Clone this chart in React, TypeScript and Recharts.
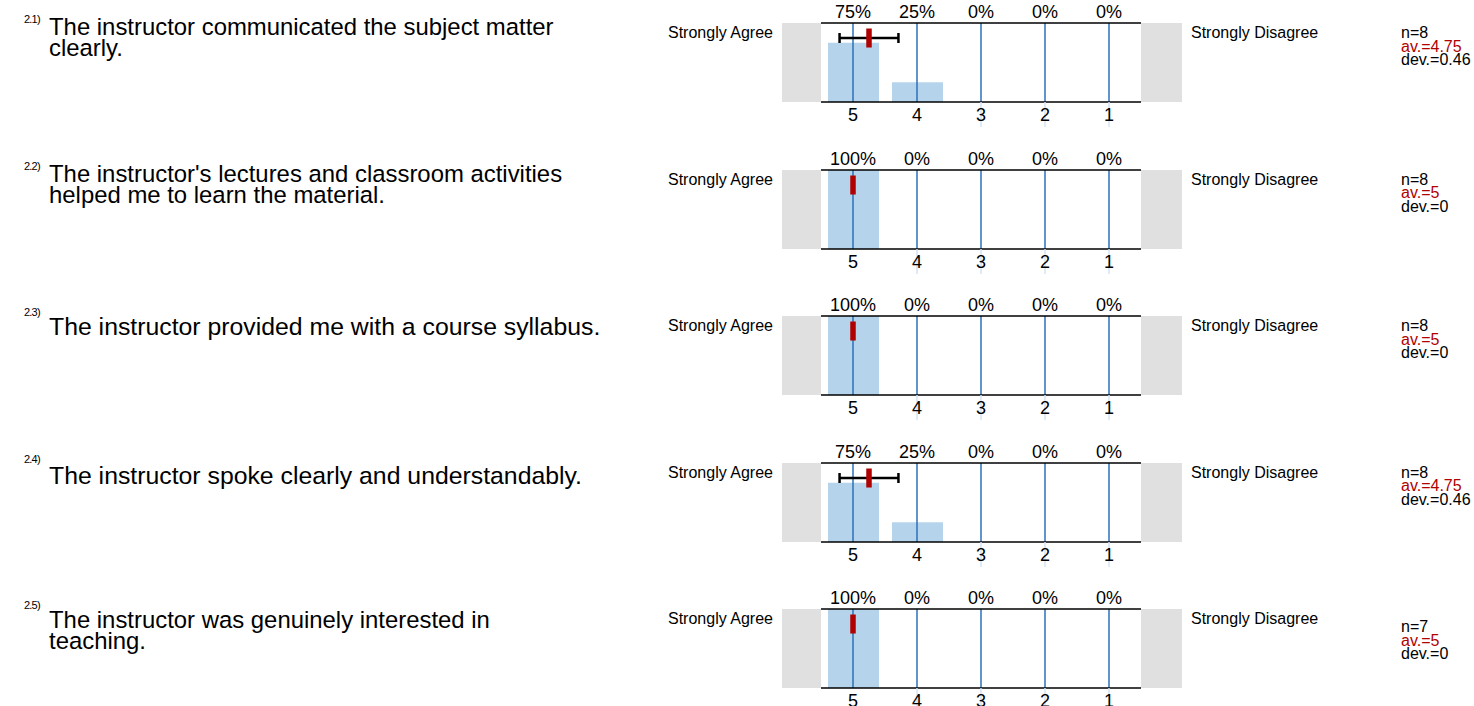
import React from 'react';
import { ComposedChart, Bar, XAxis, YAxis, ReferenceLine, Scatter, ErrorBar } from 'recharts';

// answer scale, left = best
const categories = ['5', '4', '3', '2', '1'];
const itemNumbers = ['2.1)', '2.2)', '2.3)', '2.4)', '2.5)'];
const questions = [
  ['The instructor communicated the subject matter', 'clearly.'],
  ["The instructor's lectures and classroom activities", 'helped me to learn the material.'],
  ['The instructor provided me with a course syllabus.'],
  ['The instructor spoke clearly and understandably.'],
  ['The instructor was genuinely interested in', 'teaching.'],
];
// share of answers per category, in %
const shares = [
  [75, 25, 0, 0, 0],
  [100, 0, 0, 0, 0],
  [100, 0, 0, 0, 0],
  [75, 25, 0, 0, 0],
  [100, 0, 0, 0, 0],
];
const counts = [8, 8, 8, 8, 7];
const averages = [4.75, 5, 5, 4.75, 5];
const deviations = [0.46, 0, 0, 0.46, 0];
const leftPole = 'Strongly Agree';
const rightPole = 'Strongly Disagree';

const FONT = '"Liberation Sans", Arial, Helvetica, sans-serif';
const ROW_TOP = 23;
const ROW_STEP = 146.5;
const PLOT_H = 79;
const CHART_LEFT = 782;
const TOP_AXIS_H = 23;
const BOTTOM_AXIS_H = 33;
const MARGIN = { top: 0, right: 41, bottom: 0, left: 39 };
const CHART_W = 400;
const CHART_H = TOP_AXIS_H + PLOT_H + BOTTOM_AXIS_H;
const MARK_Y = 81;
const textShift = [0, 0, 7, 9, 7];
const statShift = [0, 0, 0, 0, 8];

const BAR_FILL = '#b5d4ec';
const LINE_BLUE = '#2a72b8';
const MEAN_RED = '#b00000';

function MeanMark(props: any) {
  const { cx, cy } = props;
  return <rect x={cx - 2.75} y={cy - 9.5} width={5.5} height={19} fill={MEAN_RED} />;
}

function makeBottomTick(row: number) {
  return function BottomTick(props: any) {
    const { x, y, payload, index } = props;
    const empty = shares[row][index] === 0;
    return (
      <g>
        {empty && <line x1={x} x2={x} y1={y} y2={y + 25} stroke="#d3e5f4" strokeWidth={1.5} />}
        <text x={x} y={y + 13} textAnchor="middle" dominantBaseline="central" fontSize={18} fontFamily={FONT} fill="#000">
          {payload.value}
        </text>
      </g>
    );
  };
}

function RowChart({ row }: { row: number }) {
  const data = categories.map((c, i) => ({ cat: c, pct: shares[row][i] }));
  const mean = [{ x: averages[row], y: MARK_Y, err: deviations[row] }];
  return (
    <ComposedChart width={CHART_W} height={CHART_H} data={data} margin={MARGIN}>
      <XAxis
        xAxisId="cat"
        dataKey="cat"
        height={BOTTOM_AXIS_H}
        interval={0}
        tickSize={0}
        tickMargin={0}
        tickLine={false}
        axisLine={{ stroke: '#000', strokeWidth: 1.5 }}
        tick={makeBottomTick(row)}
      />
      <XAxis
        xAxisId="top"
        dataKey="cat"
        orientation="top"
        height={TOP_AXIS_H}
        interval={0}
        tickSize={0}
        tickMargin={5}
        tickLine={false}
        axisLine={{ stroke: '#000', strokeWidth: 1.5 }}
        tick={{ fontSize: 18, fontFamily: FONT, fill: '#000' }}
        tickFormatter={(_v: any, i: number) => `${shares[row][i]}%`}
      />
      <XAxis xAxisId="num" dataKey="x" type="number" domain={[0.5, 5.5]} reversed hide />
      <YAxis yAxisId="v" domain={[0, 100]} hide />
      <YAxis yAxisId="m" dataKey="y" domain={[0, 100]} hide />
      <Bar xAxisId="cat" yAxisId="v" dataKey="pct" fill={BAR_FILL} barSize={51} isAnimationActive={false} />
      {categories.map((c) => (
        <ReferenceLine key={c} xAxisId="cat" yAxisId="v" x={c} stroke={LINE_BLUE} strokeWidth={1.5} />
      ))}
      <Scatter
        xAxisId="num"
        yAxisId="m"
        data={mean}
        dataKey="y"
        shape={MeanMark}
        isAnimationActive={false}
      >
        {deviations[row] > 0 && (
          <ErrorBar dataKey="err" direction="x" width={5} stroke="#000" strokeWidth={2.5} />
        )}
      </Scatter>
    </ComposedChart>
  );
}

export default function App() {
  return (
    <div style={{ position: 'absolute', left: 0, top: 0, width: 1474, height: 706, background: '#fff', fontFamily: FONT, overflow: 'hidden' }}>
      {questions.map((lines, row) => {
        const top = ROW_TOP + row * ROW_STEP;
        // single-line items are set a touch larger in the original
        const qSize = lines.length === 1 ? 24.8 : 23.9;
        return (
          <React.Fragment key={row}>
            <div style={{ position: 'absolute', left: 24, top: top - 10, fontSize: 11, letterSpacing: -0.8, color: '#000' }}>
              {itemNumbers[row]}
            </div>
            <div style={{ position: 'absolute', left: 49, top: top - 7 + textShift[row], fontSize: qSize, lineHeight: '21px', color: '#000', whiteSpace: 'nowrap' }}>
              {lines.map((l, i) => (
                <div key={i}>{l}</div>
              ))}
            </div>
            <div style={{ position: 'absolute', left: 668, top: top + 1, fontSize: 16, color: '#000' }}>{leftPole}</div>
            <div style={{ position: 'absolute', left: 1191, top: top + 1, fontSize: 16, color: '#000' }}>{rightPole}</div>
            <div style={{ position: 'absolute', left: CHART_LEFT, top, width: 39, height: PLOT_H, background: '#e0e0e0' }} />
            <div style={{ position: 'absolute', left: 1141, top, width: 41, height: PLOT_H, background: '#e0e0e0' }} />
            <div style={{ position: 'absolute', left: CHART_LEFT, top: top - TOP_AXIS_H }}>
              <RowChart row={row} />
            </div>
            <div style={{ position: 'absolute', left: 1401, top: top + 3 + statShift[row], fontSize: 16, lineHeight: '13.5px' }}>
              <div style={{ color: '#000' }}>{`n=${counts[row]}`}</div>
              <div style={{ color: MEAN_RED }}>{`av.=${averages[row]}`}</div>
              <div style={{ color: '#000' }}>{`dev.=${deviations[row]}`}</div>
            </div>
          </React.Fragment>
        );
      })}
    </div>
  );
}
